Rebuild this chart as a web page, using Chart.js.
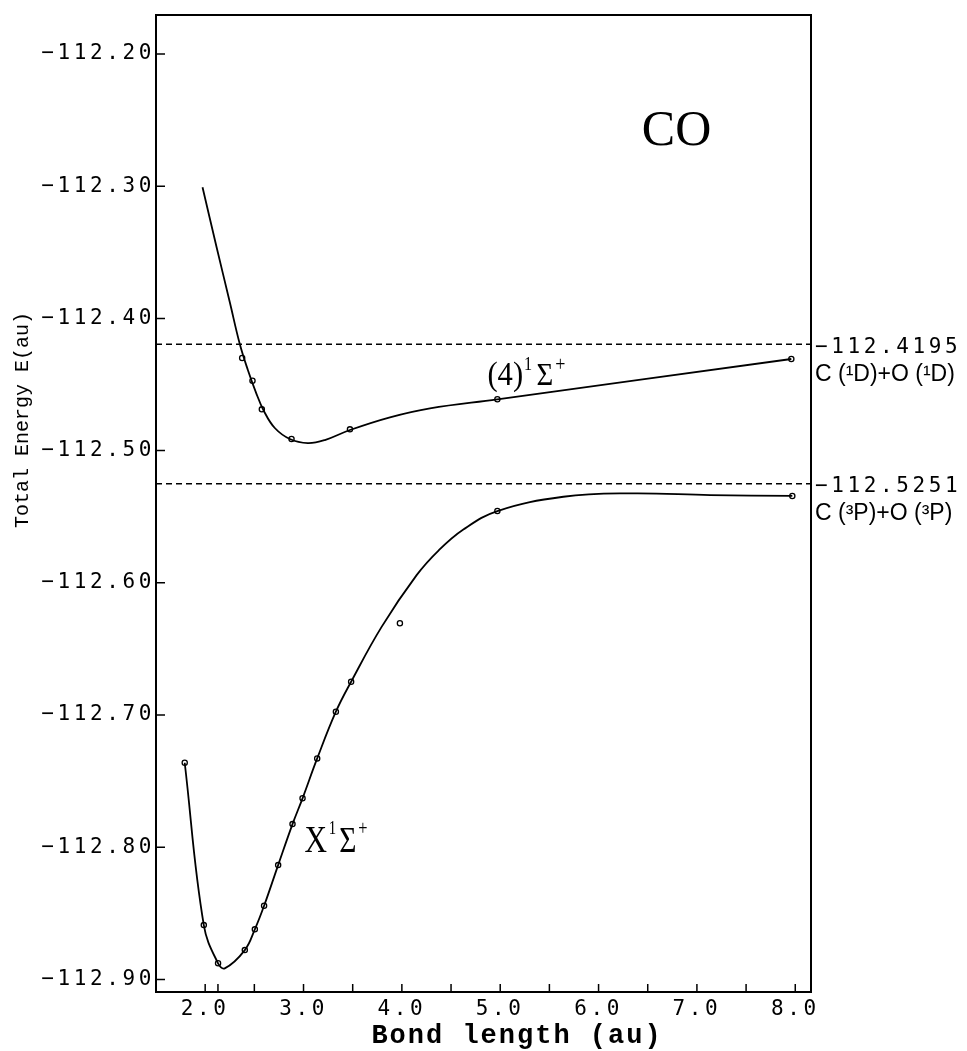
<!DOCTYPE html>
<html>
<head>
<meta charset="utf-8">
<script src="https://cdn.jsdelivr.net/npm/chart.js@4"></script>
<style>
  html, body { margin: 0; padding: 0; background: #fff; }
  #wrap { width: 967px; height: 1051px; }
</style>
</head>
<body>
<div id="wrap"><canvas id="coChart" width="967" height="1051"></canvas></div>
<script>
// X 1Σ+ ground state: the drawn curve, then the computed points on it
const groundCurveR = [1.792, 1.986, 2.131, 2.199, 2.403, 2.505, 2.599, 2.742, 2.888, 2.990, 3.139, 3.329, 3.484, 3.794, 4.150, 4.375, 4.625, 4.971, 5.642, 6.321, 7.135, 7.970];
const groundCurveE = [-112.7361, -112.8589, -112.8878, -112.8916, -112.8778, -112.8621, -112.8443, -112.8135, -112.7825, -112.7630, -112.7328, -112.6975, -112.6748, -112.6333, -112.5942, -112.5754, -112.5597, -112.5457, -112.5349, -112.5323, -112.5336, -112.5343];
const groundPointR = [1.792, 1.986, 2.131, 2.403, 2.505, 2.599, 2.742, 2.888, 2.990, 3.139, 3.329, 3.484, 3.98, 4.971, 7.970];
const groundPointE = [-112.7361, -112.8589, -112.8878, -112.8778, -112.8621, -112.8443, -112.8135, -112.7825, -112.7630, -112.7328, -112.6975, -112.6748, -112.6306, -112.5457, -112.5343];

// (4) 1Σ+ state
const upperCurveR = [1.973, 2.115, 2.250, 2.352, 2.434, 2.515, 2.597, 2.708, 2.861, 3.044, 3.217, 3.472, 3.879, 4.286, 4.971, 7.960];
const upperCurveE = [-112.3008, -112.3458, -112.3876, -112.4194, -112.4390, -112.4557, -112.4700, -112.4829, -112.4912, -112.4943, -112.4920, -112.4844, -112.4748, -112.4680, -112.4612, -112.4307];
const upperPointR = [2.376, 2.481, 2.576, 2.878, 3.472, 4.971, 7.960];
const upperPointE = [-112.4300, -112.4471, -112.4688, -112.4912, -112.4839, -112.4612, -112.4307];

// dissociation limits
const limitE = [-112.4195, -112.5251];
const limitText = ['\u2212112.4195', '\u2212112.5251'];
const limitName = ['C (\u00b9D)+O (\u00b9D)', 'C (\u00b3P)+O (\u00b3P)'];

const xTickValues = [2.0, 2.13, 2.5, 3.0, 3.5, 4.0, 4.5, 5.0, 5.5, 6.0, 6.5, 7.0, 7.5, 8.0];
const yTickValues = [-112.9, -112.8, -112.7, -112.6, -112.5, -112.4, -112.3, -112.2];

const xMin = 1.5, xMax = 8.16;
const yMin = -112.9095, yMax = -112.1705;

const toXY = (xs, ys) => xs.map((v, i) => ({ x: v, y: ys[i] }));

const curveStyle = {
  showLine: true, pointRadius: 0, borderColor: '#000', borderWidth: 1.8,
  tension: 0.4, fill: false
};
const pointStyle = {
  showLine: false, pointRadius: 2.6, pointBackgroundColor: '#fff',
  pointBorderColor: '#000', pointBorderWidth: 1.3
};
const dashStyle = {
  showLine: true, pointRadius: 0, borderColor: '#000', borderWidth: 1.6,
  borderDash: [6, 4], fill: false
};

function drawParts(ctx, parts, x0, base, sx) {
  ctx.save();
  ctx.translate(x0, base);
  ctx.scale(sx, 1);
  let cx = 0;
  parts.forEach(([t, size, dy, gap]) => {
    ctx.font = size + 'px "Liberation Serif"';
    ctx.fillText(t, cx, dy);
    cx += ctx.measureText(t).width + gap;
  });
  ctx.restore();
}

const paperPlugin = {
  id: 'paper',
  beforeDraw(chart) { chart.ctx.letterSpacing = '3.6px'; },
  afterDraw(chart) {
    const { ctx, chartArea: a, scales: { x, y } } = chart;
    ctx.save();
    ctx.letterSpacing = '0px';
    ctx.strokeStyle = '#000';
    ctx.fillStyle = '#000';
    ctx.lineWidth = 2;
    ctx.strokeRect(a.left, a.top, a.right - a.left, a.bottom - a.top);

    // tick marks point into the frame
    ctx.lineWidth = 1.5;
    ctx.beginPath();
    y.ticks.forEach(t => {
      const py = y.getPixelForValue(t.value);
      ctx.moveTo(a.left, py); ctx.lineTo(a.left + 9, py);
    });
    x.ticks.forEach(t => {
      const px = x.getPixelForValue(t.value);
      ctx.moveTo(px, a.bottom); ctx.lineTo(px, a.bottom - 8);
    });
    ctx.stroke();

    // limit labels on the right
    ctx.textAlign = 'left';
    ctx.textBaseline = 'middle';
    limitE.forEach((e, i) => {
      const py = y.getPixelForValue(e);
      ctx.letterSpacing = '3.6px';
      ctx.font = '21px "DejaVu Sans Mono"';
      ctx.fillText(limitText[i], a.right + 4, py + 3);
      ctx.letterSpacing = '0px';
      ctx.font = '23px "Liberation Sans"';
      ctx.fillText(limitName[i], a.right + 4, py + 30);
    });

    // molecule and state labels
    ctx.textBaseline = 'alphabetic';
    ctx.font = '50px "Liberation Serif"';
    ctx.fillText('CO', x.getPixelForValue(6.44), y.getPixelForValue(-112.2688));
    drawParts(ctx, [['(4)', 34, 0, 1], ['1', 18, -15, 5], ['\u03a3', 32, 0, 2], ['+', 20, -14, 0]],
      x.getPixelForValue(4.87), y.getPixelForValue(-112.4504), 0.9);
    drawParts(ctx, [['X', 38, 0, 2], ['1', 18, -18, 4], ['\u03a3', 36, 0, 2], ['+', 20, -17, 0]],
      x.getPixelForValue(3.01), y.getPixelForValue(-112.8036), 0.82);

    // axis titles
    ctx.textAlign = 'center';
    ctx.letterSpacing = '2px';
    ctx.font = 'bold 27px "Liberation Mono"';
    ctx.fillText('Bond length (au)', 517, 1043);
    ctx.letterSpacing = '0px';
    ctx.save();
    ctx.translate(23, 420);
    ctx.rotate(-Math.PI / 2);
    ctx.textBaseline = 'middle';
    ctx.font = '20px "Liberation Mono"';
    ctx.fillText('Total Energy E(au)', 0, 0);
    ctx.restore();
    ctx.restore();
  }
};

const ctx = document.getElementById('coChart').getContext('2d');
new Chart(ctx, {
  type: 'scatter',
  data: {
    datasets: [
      { ...curveStyle, label: 'X1Σ+ curve', data: toXY(groundCurveR, groundCurveE) },
      { ...pointStyle, label: 'X1Σ+ points', data: toXY(groundPointR, groundPointE) },
      { ...curveStyle, label: '(4)1Σ+ curve', data: toXY(upperCurveR, upperCurveE) },
      { ...pointStyle, label: '(4)1Σ+ points', data: toXY(upperPointR, upperPointE) },
      { ...dashStyle, label: 'C(1D)+O(1D)', data: [{ x: xMin, y: limitE[0] }, { x: xMax, y: limitE[0] }] },
      { ...dashStyle, label: 'C(3P)+O(3P)', data: [{ x: xMin, y: limitE[1] }, { x: xMax, y: limitE[1] }] }
    ]
  },
  options: {
    responsive: false,
    animation: false,
    devicePixelRatio: 1,
    layout: { padding: { top: 15, right: 156, left: 0, bottom: 0 } },
    plugins: { legend: { display: false }, tooltip: { enabled: false } },
    scales: {
      x: {
        type: 'linear', min: xMin, max: xMax,
        grid: { display: false, drawTicks: false },
        border: { display: false },
        afterBuildTicks: s => { s.ticks = xTickValues.map(v => ({ value: v })); },
        afterFit: s => { s.height = 59; },
        ticks: {
          padding: 5, color: '#000', maxRotation: 0, autoSkip: false,
          font: { family: 'DejaVu Sans Mono', size: 21 },
          callback: v => Number.isInteger(v) ? v.toFixed(1) : ''
        }
      },
      y: {
        type: 'linear', min: yMin, max: yMax,
        grid: { display: false, drawTicks: false },
        border: { display: false },
        afterBuildTicks: s => { s.ticks = yTickValues.map(v => ({ value: v })); },
        afterFit: s => { s.width = 156; },
        ticks: {
          padding: 1, color: '#000', autoSkip: false,
          font: { family: 'DejaVu Sans Mono', size: 21 },
          callback: v => '\u2212' + Math.abs(v).toFixed(2)
        }
      }
    }
  },
  plugins: [paperPlugin]
});
</script>
</body>
</html>
